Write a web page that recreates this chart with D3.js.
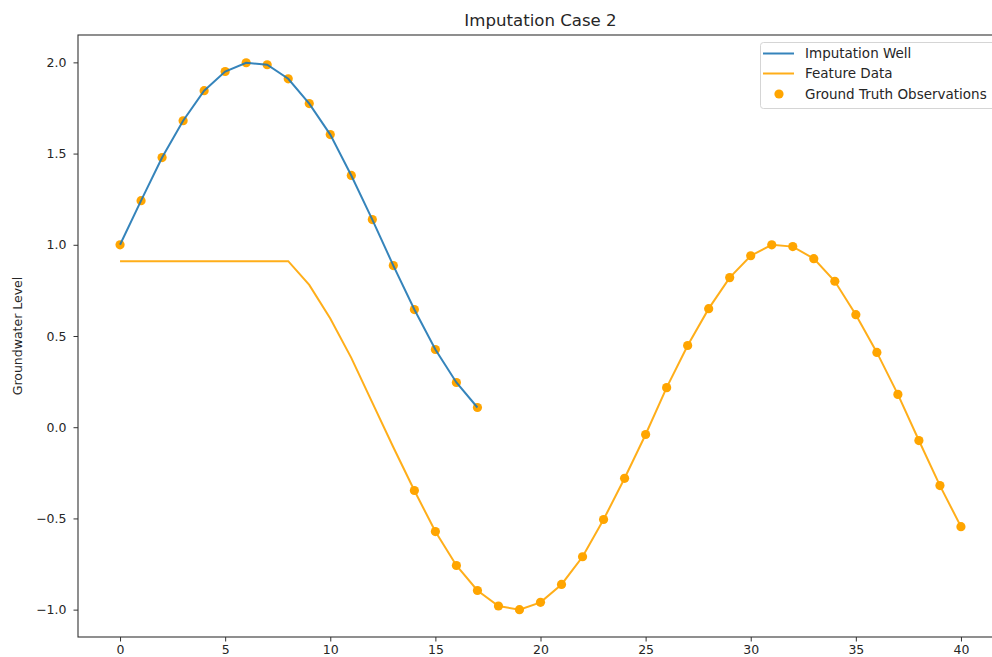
<!DOCTYPE html>
<html>
<head>
<meta charset="utf-8">
<script src="https://cdn.jsdelivr.net/npm/d3@7"></script>
<style>
  body { margin: 0; background: #fff; }
  svg { display: block; font-family: "DejaVu Sans", sans-serif; }
</style>
</head>
<body>
<svg id="chart"></svg>
<script>
// imputation well, x = 0..17
const wellX = [0, 1, 2, 3, 4, 5, 6, 7, 8, 9, 10, 11, 12, 13, 14, 15, 16, 17];
const wellY = [1.0, 1.242, 1.478, 1.68, 1.845, 1.95, 1.998, 1.987, 1.91, 1.774,
  1.604, 1.38, 1.138, 0.886, 0.645, 0.426, 0.245, 0.108];

// feature data, x = 0..40
const featureX = [0, 1, 2, 3, 4, 5, 6, 7, 8, 9, 10, 11, 12, 13, 14, 15, 16, 17, 18, 19, 20,
  21, 22, 23, 24, 25, 26, 27, 28, 29, 30, 31, 32, 33, 34, 35, 36, 37, 38, 39, 40];
const featureY = [0.91, 0.91, 0.91, 0.91, 0.91, 0.91, 0.91, 0.91, 0.91, 0.78,
  0.596, 0.38, 0.135, -0.11, -0.347, -0.572, -0.758, -0.895, -0.98, -1.0,
  -0.96, -0.862, -0.71, -0.506, -0.28, -0.04, 0.217, 0.448, 0.65, 0.82,
  0.94, 1.0, 0.99, 0.924, 0.80, 0.617, 0.41, 0.18, -0.073, -0.32, -0.545];

// ground truth observations: the well itself plus the feature series from x = 14
const obsX = wellX.concat(featureX.slice(14));
const obsY = wellY.concat(featureY.slice(14));

const xTicks = [0, 5, 10, 15, 20, 25, 30, 35, 40];
const yTicks = [-1.0, -0.5, 0.0, 0.5, 1.0, 1.5, 2.0];

const width = 992, height = 657;
// the figure is cropped on the right: the axes run past the picture
const margin = { top: 35, bottom: 20, left: 78, right: -11 };

const blue = "#1f77b4", orange = "#ffa500";

const svg = d3.select("#chart").attr("width", width).attr("height", height);

const x = d3.scaleLinear().domain([-2, 42]).range([margin.left, width - margin.right]);
const y = d3.scaleLinear().domain([-1.15, 2.15]).range([height - margin.bottom, margin.top]);

// axes
const xAxis = svg.append("g")
  .attr("transform", `translate(0, ${height - margin.bottom})`)
  .call(d3.axisBottom(x).tickValues(xTicks).tickSize(4.5).tickPadding(4).tickSizeOuter(0)
    .tickFormat(d3.format("d")));

const yAxis = svg.append("g")
  .attr("transform", `translate(${margin.left}, 0)`)
  .call(d3.axisLeft(y).tickValues(yTicks).tickSize(4.5).tickPadding(7).tickSizeOuter(0)
    .tickFormat(d => d3.format(".1f")(d).replace("-", "\u2212")));

[xAxis, yAxis].forEach(a => {
  a.select(".domain").remove();
  a.selectAll(".tick line").attr("stroke", "#333").attr("stroke-width", 1);
  a.selectAll(".tick text").attr("fill", "#262626").attr("font-size", 12.5)
    .attr("font-family", "DejaVu Sans");
});

// frame
svg.append("rect")
  .attr("x", x(-2)).attr("y", y(2.15))
  .attr("width", x(42) - x(-2)).attr("height", y(-1.15) - y(2.15))
  .attr("fill", "none").attr("stroke", "#333").attr("stroke-width", 1.1);

// scatter first, lines on top (matplotlib zorder)
svg.append("g").selectAll("circle")
  .data(obsX.map((d, i) => [d, obsY[i]]))
  .join("circle")
  .attr("cx", d => x(d[0]))
  .attr("cy", d => y(d[1]))
  .attr("r", 4.6)
  .attr("fill", orange);

const line = d3.line().x(d => x(d[0])).y(d => y(d[1]));

svg.append("path")
  .datum(featureX.map((d, i) => [d, featureY[i]]))
  .attr("d", line)
  .attr("fill", "none")
  .attr("stroke", orange)
  .attr("stroke-opacity", 0.9)
  .attr("stroke-width", 2);

svg.append("path")
  .datum(wellX.map((d, i) => [d, wellY[i]]))
  .attr("d", line)
  .attr("fill", "none")
  .attr("stroke", blue)
  .attr("stroke-opacity", 0.9)
  .attr("stroke-width", 2);

// title and y label
svg.append("text")
  .attr("x", (x(-2) + x(42)) / 2).attr("y", 26)
  .attr("text-anchor", "middle")
  .attr("font-size", 16.6)
  .attr("fill", "#262626")
  .text("Imputation Case 2");

svg.append("text")
  .attr("transform", `translate(21.5, ${(y(2.15) + y(-1.15)) / 2}) rotate(-90)`)
  .attr("text-anchor", "middle")
  .attr("font-size", 12.5)
  .attr("fill", "#262626")
  .text("Groundwater Level");

// legend
const legend = svg.append("g");
legend.append("rect")
  .attr("x", 760.5).attr("y", 42.5)
  .attr("width", 240).attr("height", 66)
  .attr("rx", 3)
  .attr("fill", "#fff").attr("fill-opacity", 0.8)
  .attr("stroke", "#d5d5d5");

const items = [
  { label: "Imputation Well", type: "line", color: blue },
  { label: "Feature Data", type: "line", color: orange },
  { label: "Ground Truth Observations", type: "dot", color: orange }
];
const rowY = [53.5, 73.5, 94];

items.forEach((it, i) => {
  const g = legend.append("g").attr("transform", `translate(0, ${rowY[i]})`);
  if (it.type === "line") {
    g.append("line").attr("x1", 763).attr("x2", 794)
      .attr("stroke", it.color).attr("stroke-width", 2).attr("stroke-opacity", 0.9);
  } else {
    g.append("circle").attr("cx", 779).attr("r", 4.6).attr("fill", it.color);
  }
  g.append("text").attr("x", 805).attr("dy", "0.35em")
    .attr("font-size", 13.5).attr("fill", "#262626")
    .text(it.label);
});
</script>
</body>
</html>
